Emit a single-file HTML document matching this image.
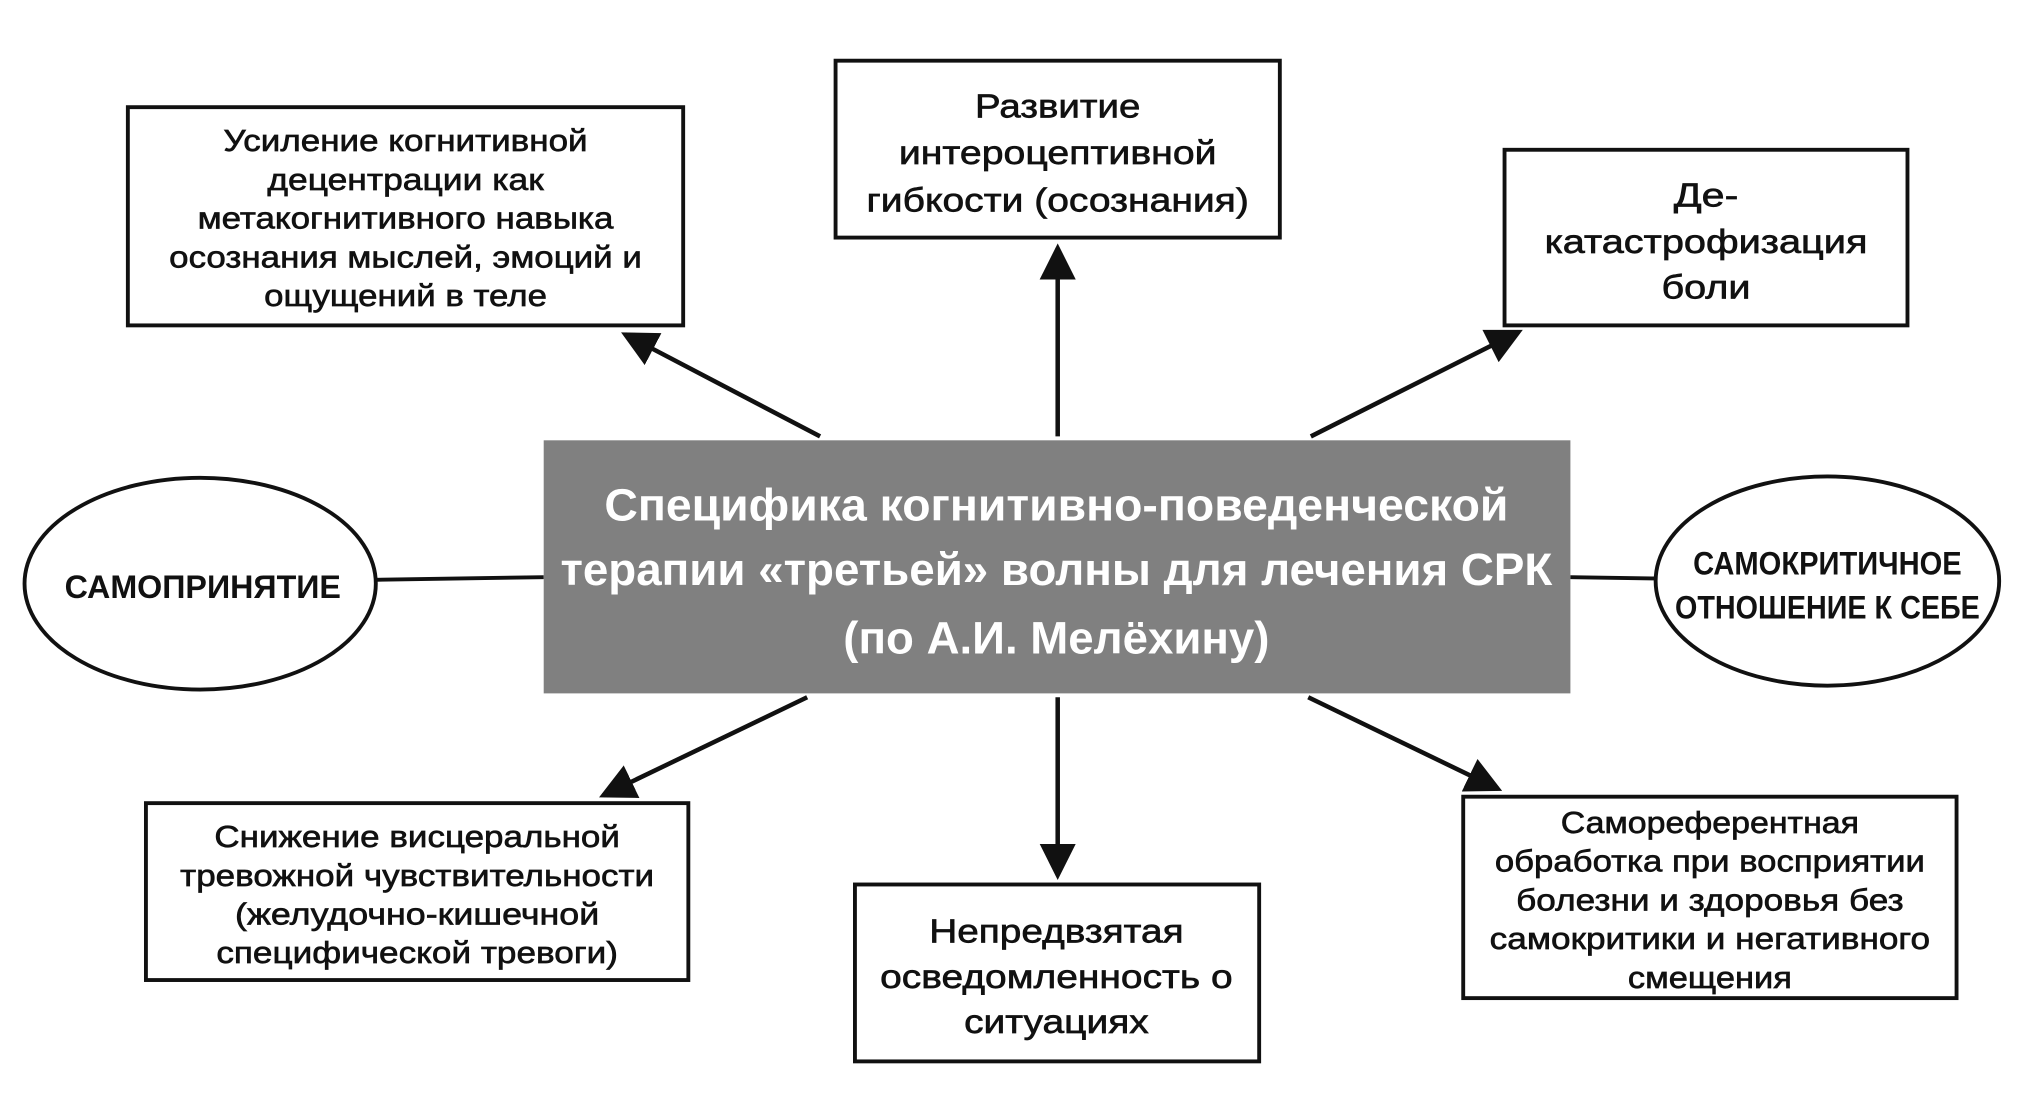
<!DOCTYPE html>
<html><head><meta charset="utf-8"><style>
html,body{margin:0;padding:0;background:#fff;}
svg{display:block;}
text{font-family:"Liberation Sans","DejaVu Sans",sans-serif;fill:#111;text-anchor:middle;}
.b,.m{font-size:24px;stroke:#111;stroke-width:0.5px;}
.m{font-size:26px;}
.c{font-size:35px;font-weight:bold;fill:#fff;}
.e{font-size:25px;font-weight:bold;}
</style></head><body>
<svg width="2025" height="1104" viewBox="0 0 1568 855" preserveAspectRatio="none" xmlns="http://www.w3.org/2000/svg">
<defs><marker id="a" markerWidth="8" markerHeight="8" refX="7" refY="4" orient="auto" markerUnits="strokeWidth"><path d="M0,0 L8,4 L0,8 z" fill="#111"/></marker></defs>
<g stroke="#111" stroke-width="3.5" fill="none">
<line x1="635" y1="338" x2="484" y2="259" marker-end="url(#a)"/>
<line x1="819" y1="338" x2="819" y2="192" marker-end="url(#a)"/>
<line x1="1015" y1="338" x2="1176" y2="257" marker-end="url(#a)"/>
<line x1="625" y1="540" x2="467" y2="616" marker-end="url(#a)"/>
<line x1="819" y1="540" x2="819" y2="678" marker-end="url(#a)"/>
<line x1="1013" y1="540" x2="1160" y2="611" marker-end="url(#a)"/>
<line x1="291" y1="449" x2="421" y2="447" stroke-width="3"/>
<line x1="1216" y1="447" x2="1282" y2="448" stroke-width="3"/>
</g>
<g stroke="#111" stroke-width="3" fill="#fff">
<rect x="99" y="83" width="430" height="169"/>
<rect x="647" y="47" width="344" height="137"/>
<rect x="1165" y="116" width="312" height="136"/>
<rect x="113" y="622" width="420" height="137"/>
<rect x="662" y="685" width="313" height="137"/>
<rect x="1133" y="617" width="382" height="156"/>
<ellipse cx="155" cy="452" rx="136" ry="82"/>
<ellipse cx="1415" cy="450" rx="133" ry="81"/>
</g>
<rect x="421" y="341" width="795" height="196" fill="#808080"/>
<g lengthAdjust="spacingAndGlyphs">
<text class="b" x="314" y="117" textLength="282" lengthAdjust="spacingAndGlyphs">Усиление когнитивной</text>
<text class="b" x="314" y="147" textLength="214" lengthAdjust="spacingAndGlyphs">децентрации как</text>
<text class="b" x="314" y="177" textLength="322" lengthAdjust="spacingAndGlyphs">метакогнитивного навыка</text>
<text class="b" x="314" y="207" textLength="366" lengthAdjust="spacingAndGlyphs">осознания мыслей, эмоций и</text>
<text class="b" x="314" y="237" textLength="219" lengthAdjust="spacingAndGlyphs">ощущений в теле</text>
<text class="m" x="819" y="91" textLength="128" lengthAdjust="spacingAndGlyphs">Развитие</text>
<text class="m" x="819" y="127" textLength="246" lengthAdjust="spacingAndGlyphs">интероцептивной</text>
<text class="m" x="819" y="164" textLength="296" lengthAdjust="spacingAndGlyphs">гибкости (осознания)</text>
<text class="m" x="1321" y="160" textLength="50" lengthAdjust="spacingAndGlyphs">Де-</text>
<text class="m" x="1321" y="196" textLength="250" lengthAdjust="spacingAndGlyphs">катастрофизация</text>
<text class="m" x="1321" y="231" textLength="69" lengthAdjust="spacingAndGlyphs">боли</text>
<text class="c" x="818" y="403" textLength="700" lengthAdjust="spacingAndGlyphs">Специфика когнитивно-поведенческой</text>
<text class="c" x="818" y="453" textLength="768" lengthAdjust="spacingAndGlyphs">терапии «третьей» волны для лечения СРК</text>
<text class="c" x="818" y="506" textLength="330" lengthAdjust="spacingAndGlyphs">(по А.И. Мелёхину)</text>
<text class="e" x="157" y="463" textLength="214" lengthAdjust="spacingAndGlyphs">САМОПРИНЯТИЕ</text>
<text class="e" x="1415" y="445" textLength="208" lengthAdjust="spacingAndGlyphs">САМОКРИТИЧНОЕ</text>
<text class="e" x="1415" y="479" textLength="236" lengthAdjust="spacingAndGlyphs">ОТНОШЕНИЕ К СЕБЕ</text>
<text class="b" x="323" y="656" textLength="314" lengthAdjust="spacingAndGlyphs">Снижение висцеральной</text>
<text class="b" x="323" y="686" textLength="367" lengthAdjust="spacingAndGlyphs">тревожной чувствительности</text>
<text class="b" x="323" y="716" textLength="282" lengthAdjust="spacingAndGlyphs">(желудочно-кишечной</text>
<text class="b" x="323" y="746" textLength="311" lengthAdjust="spacingAndGlyphs">специфической тревоги)</text>
<text class="m" x="818" y="730" textLength="197" lengthAdjust="spacingAndGlyphs">Непредвзятая</text>
<text class="m" x="818" y="765" textLength="273" lengthAdjust="spacingAndGlyphs">осведомленность о</text>
<text class="m" x="818" y="800" textLength="143" lengthAdjust="spacingAndGlyphs">ситуациях</text>
<text class="b" x="1324" y="645" textLength="231" lengthAdjust="spacingAndGlyphs">Самореферентная</text>
<text class="b" x="1324" y="675" textLength="333" lengthAdjust="spacingAndGlyphs">обработка при восприятии</text>
<text class="b" x="1324" y="705" textLength="300" lengthAdjust="spacingAndGlyphs">болезни и здоровья без</text>
<text class="b" x="1324" y="735" textLength="341" lengthAdjust="spacingAndGlyphs">самокритики и негативного</text>
<text class="b" x="1324" y="765" textLength="127" lengthAdjust="spacingAndGlyphs">смещения</text>
</g>
</svg>
</body></html>
